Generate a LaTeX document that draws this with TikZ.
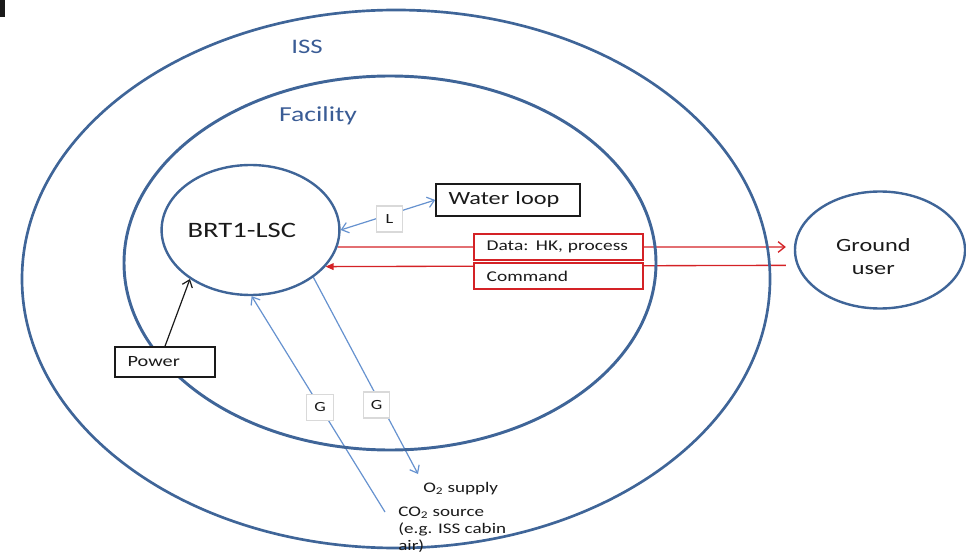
\documentclass[tikz,border=0pt]{standalone}
\usepackage{fontspec}
\setmainfont[FakeStretch=1.3]{Carlito}
\usetikzlibrary{shapes.geometric,arrows.meta,backgrounds}
\definecolor{ringblue}{HTML}{3F6598}
\definecolor{labelblue}{HTML}{3A5C95}
\definecolor{arrowblue}{HTML}{6692CF}
\definecolor{datared}{HTML}{D42226}
\definecolor{tagborder}{HTML}{D9D9D9}
\definecolor{inkblack}{HTML}{1A1A1A}
\begin{document}
\begin{tikzpicture}[x=0.75pt,y=-0.75pt,
  ring/.style={ellipse, draw=ringblue, inner sep=0pt},
  tagbox/.style={draw=tagborder, line width=0.8pt, fill=white, inner sep=0pt,
    minimum width=20pt, minimum height=19.5pt, font=\fontsize{10.5}{12}\selectfont, text=inkblack},
  plainbox/.style={draw=inkblack, line width=1.2pt, fill=white, inner xsep=9.5pt,
    inner ysep=0pt, align=left, text=inkblack},
  redbox/.style={plainbox, draw=datared, line width=1pt},
  blueflow/.style={draw=arrowblue, line width=0.9pt},
  openhead/.tip={Straight Barb[length=5pt,width=8pt]},
  fullhead/.tip={Triangle[length=6pt,width=5pt]},
  plaintext/.style={text=inkblack, inner sep=0pt}
]
\useasboundingbox (0,0) rectangle (966,552);
\fill[inkblack] (0,0) rectangle (5,17);

% rings
\node[ring, line width=2pt, minimum width=561pt, minimum height=403.5pt] (iss) at (396,279) {};
\node[ring, line width=2.2pt, minimum width=399pt, minimum height=280.5pt] (facility) at (390,263) {};
\node[ring, line width=1.8pt, minimum width=129pt, minimum height=97.5pt,
  font=\fontsize{16.5}{19}\selectfont, text=inkblack] (brt) at (250.5,230) {BRT1-LSC\hspace*{13pt}};
\node[ring, line width=1.8pt, minimum width=127.5pt, minimum height=87.75pt, align=center,
  font=\fontsize{14}{17.25}\selectfont, text=inkblack] (ground) at (880,250)
  {\rule{0pt}{19pt}Ground\hspace*{10pt}\\user\hspace*{10pt}};

% ring labels
\node[text=labelblue, font=\fontsize{15.5}{18}\selectfont] (isslabel) at (307,47) {ISS};
\node[text=labelblue, font=\fontsize{16}{19}\selectfont] (faclabel) at (318,116) {Facility};

% boxes
\node[plainbox, text width=89pt, minimum height=24pt, font=\fontsize{14}{16}\selectfont] (water) at (508,200) {Water loop};
\node[redbox, text width=107.75pt, minimum height=19.5pt, font=\fontsize{11.2}{13}\selectfont] (data) at (558.5,247) {Data: HK, process};
\node[redbox, text width=107.75pt, minimum height=19.5pt, font=\fontsize{11.2}{13}\selectfont] (cmd) at (558.5,276) {Command};
\node[plainbox, text width=56pt, minimum height=22.5pt, font=\fontsize{11.7}{14}\selectfont] (power) at (165,362) {Power};

% tags
\node[tagbox] (ltag) at (389.5,219) {L};
\node[tagbox] (gleft) at (320,407.5) {G};
\node[tagbox] (gright) at (376.5,405) {G};

% gas texts
\node[plaintext, anchor=base west, font=\fontsize{11}{12.75}\selectfont] (o2) at (423,492) {O\textsubscript{2} supply};
\node[plaintext, anchor=north west, align=left, font=\fontsize{11}{12.75}\selectfont] (co2) at (398,507) {CO\textsubscript{2} source\\(e.g. ISS cabin\\air)};

\coordinate (co2end) at (385,512);
\coordinate (o2end) at (418,474);
\coordinate (cmdline) at ([yshift=-2.25pt]cmd.north);

\begin{scope}[on background layer]
\draw[blueflow, openhead-openhead] (brt.east) -- (water.west);
\draw[datared, line width=1pt, -openhead] (brt.-11) -- ([xshift=-6pt]ground.west |- data.center);
\draw[datared, line width=1pt, -fullhead] ([xshift=-6pt]ground.west |- cmdline) -- (brt.-26.7);
\draw[inkblack, line width=0.9pt, -openhead] (power.north) -- (brt.-141.2);
\draw[blueflow, -openhead] (co2end) -- (brt.-89);
\draw[blueflow, -openhead] (brt.-37.5) -- (o2end);
\end{scope}
\end{tikzpicture}
\end{document}
